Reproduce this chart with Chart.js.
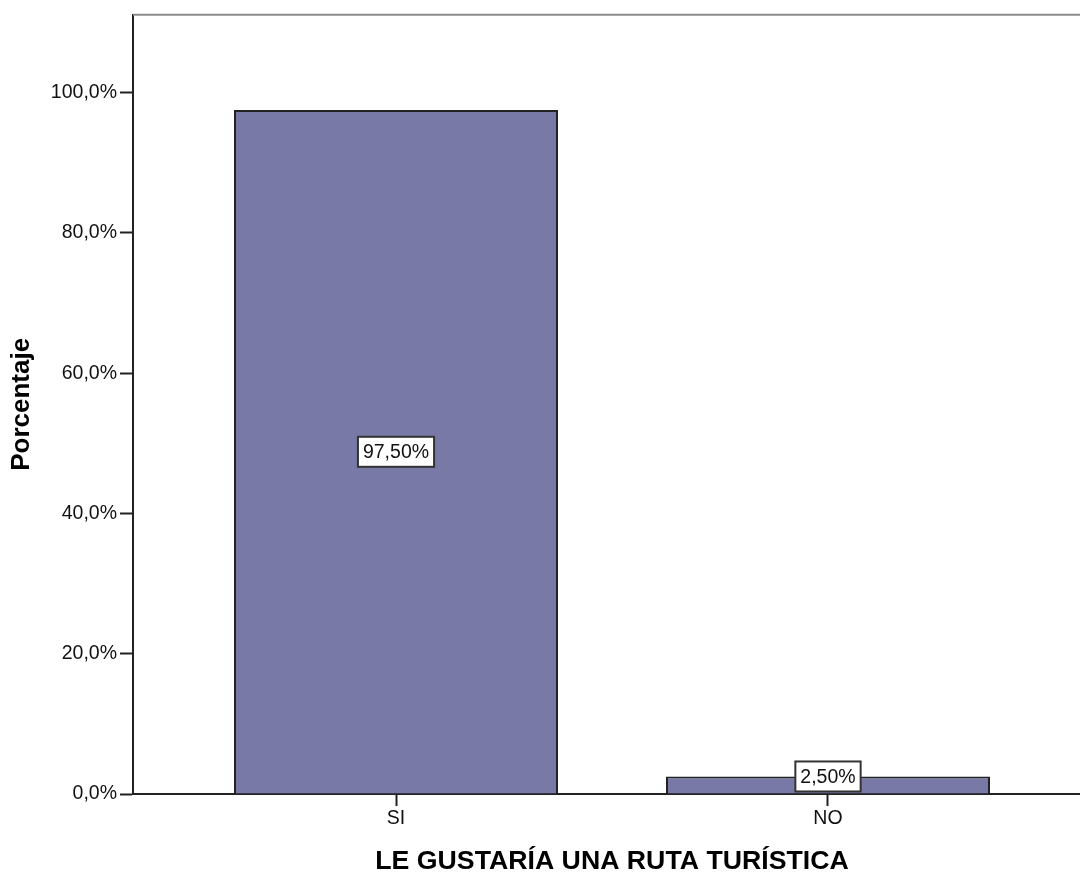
<!DOCTYPE html>
<html>
<head>
<meta charset="utf-8">
<script src="https://cdn.jsdelivr.net/npm/chart.js@4/dist/chart.umd.min.js"></script>
<style>
  html, body { margin: 0; padding: 0; background: #fff; overflow: hidden; }
  #contenedor { width: 1100px; height: 872px; }
</style>
</head>
<body>
<div id="contenedor"><canvas id="grafico"></canvas></div>
<script>
// Datos
var categorias = ['SI', 'NO'];
var porcentajes = [97.5, 2.5];
var etiquetas = ['97,50%', '2,50%'];
var ticksY = [0, 20, 40, 60, 80, 100];

var fuente = "'Liberation Sans', Arial, sans-serif";

// Marco superior gris
var marco = {
    id: 'marco',
    afterDraw: function (chart) {
        var ctx = chart.ctx, a = chart.chartArea;
        ctx.save();
        ctx.strokeStyle = '#8a8a8a';
        ctx.lineWidth = 2;
        ctx.beginPath();
        ctx.moveTo(a.left, a.top);
        ctx.lineTo(a.right, a.top);
        ctx.stroke();
        ctx.restore();
    }
};

// Etiquetas con caja blanca
var cajas = {
    id: 'cajas',
    afterDatasetsDraw: function (chart) {
        var ctx = chart.ctx;
        var meta = chart.getDatasetMeta(0);
        ctx.save();
        ctx.font = '19.5px ' + fuente;
        ctx.textAlign = 'center';
        ctx.textBaseline = 'middle';
        meta.data.forEach(function (barra, i) {
            var texto = etiquetas[i];
            var w = ctx.measureText(texto).width + 10;
            var h = 30;
            var alto = Math.abs(barra.base - barra.y);
            var cy = alto > h ? (barra.y + barra.base) / 2 : barra.y;
            ctx.fillStyle = '#fff';
            ctx.fillRect(barra.x - w / 2, cy - h / 2, w, h);
            ctx.strokeStyle = '#333';
            ctx.lineWidth = 2;
            ctx.strokeRect(barra.x - w / 2, cy - h / 2, w, h);
            ctx.fillStyle = '#111';
            ctx.fillText(texto, barra.x, cy + 1);
        });
        ctx.restore();
    }
};

var ctx = document.getElementById('grafico').getContext('2d');
var grafico = new Chart(ctx, {
    type: 'bar',
    data: {
        datasets: [{
            data: categorias.map(function (c, i) { return { x: i, y: porcentajes[i] }; }),
            backgroundColor: 'rgb(121,121,168)',
            borderColor: '#222',
            borderWidth: 2,
            categoryPercentage: 1,
            barPercentage: 0.75
        }]
    },
    options: {
        responsive: true,
        maintainAspectRatio: false,
        animation: false,
        layout: { padding: { top: 12, right: 9, bottom: 0, left: 0 } },
        plugins: { legend: { display: false }, tooltip: { enabled: false } },
        scales: {
            x: {
                type: 'linear',
                offset: false,
                min: -0.6088,
                max: 1.6088,
                afterBuildTicks: function (scale) {
                    scale.ticks = categorias.map(function (c, i) { return { value: i }; });
                },
                afterFit: function (scale) { scale.height = 78; },
                grid: { offset: false, drawOnChartArea: false, drawTicks: true, tickLength: 12, tickColor: '#222', tickWidth: 2 },
                border: { color: '#222', width: 2 },
                ticks: {
                    padding: 1,
                    color: '#111',
                    font: { family: fuente, size: 19.5 },
                    callback: function (v) { return categorias[v]; }
                },
                title: {
                    display: true,
                    text: 'LE GUSTARÍA UNA RUTA TURÍSTICA',
                    color: '#000',
                    font: { family: fuente, size: 26.7, weight: 'bold', lineHeight: 0.8 },
                    padding: 0
                }
            },
            y: {
                min: 0,
                max: 111.1,
                afterBuildTicks: function (scale) {
                    scale.ticks = ticksY.map(function (v) { return { value: v }; });
                },
                afterFit: function (scale) { scale.width = 133; },
                grid: { drawOnChartArea: false, drawTicks: true, tickLength: 13, tickColor: '#222', tickWidth: 2 },
                border: { color: '#222', width: 2 },
                ticks: {
                    padding: 3,
                    color: '#111',
                    font: { family: fuente, size: 19.5 },
                    callback: function (v) { return v.toFixed(1).replace('.', ',') + '%'; }
                },
                title: {
                    display: true,
                    text: 'Porcentaje',
                    color: '#000',
                    font: { family: fuente, size: 26, weight: 'bold', lineHeight: 1.2 },
                    padding: { top: 6, bottom: 0 }
                }
            }
        }
    },
    plugins: [marco, cajas]
});
</script>
</body>
</html>
